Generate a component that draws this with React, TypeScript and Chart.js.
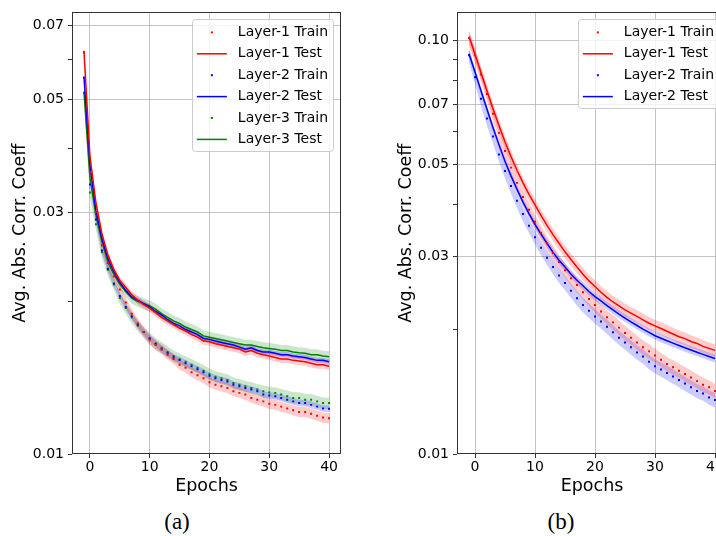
import React, { useEffect, useRef } from 'react';
import { Chart, registerables } from 'chart.js';

Chart.register(...registerables);

const FONT = '"DejaVu Sans", sans-serif';
const GRID = 'rgba(176,176,176,0.75)';
const SPINE = '#333333';

// ---------- data ----------
const EPOCHS = [-1, 0, 1, 2, 3, 4, 5, 6, 7, 8, 9, 10, 11, 12, 13, 14, 15, 16, 17, 18, 19, 20,
  21, 22, 23, 24, 25, 26, 27, 28, 29, 30, 31, 32, 33, 34, 35, 36, 37, 38, 39, 40];
const X_TICKS = [0, 10, 20, 30, 40];

// Panel (a)
const A_L1_TRAIN = [0.0620, 0.0360, 0.0300, 0.0258, 0.0238, 0.0224, 0.0211, 0.0199, 0.0189, 0.0181, 0.0174,
  0.0168, 0.0164, 0.0161, 0.0157, 0.0154, 0.0150, 0.0148, 0.0145, 0.0143, 0.0141, 0.01385,
  0.0137, 0.0136, 0.0135, 0.0133, 0.0132, 0.0131, 0.0129, 0.0128, 0.0127, 0.01256,
  0.0125, 0.0124, 0.0123, 0.0122, 0.0121, 0.0121, 0.0120, 0.0119, 0.0118, 0.01176];
const A_L1_TEST = [0.0624, 0.0387, 0.0313, 0.0272, 0.0247, 0.0231, 0.0220, 0.0213, 0.0206, 0.0201, 0.0197,
  0.0194, 0.0190, 0.0186, 0.0183, 0.0180, 0.0177, 0.0175, 0.0172, 0.0170, 0.0167, 0.01665,
  0.0165, 0.0164, 0.0163, 0.0162, 0.0161, 0.0159, 0.0160, 0.0158, 0.0157, 0.0156,
  0.0155, 0.0154, 0.0154, 0.0153, 0.01526, 0.0152, 0.0151, 0.0150, 0.0150, 0.0149];
const A_L2_TRAIN = [0.0552, 0.0340, 0.0290, 0.0252, 0.0232, 0.0217, 0.0205, 0.0195, 0.0187, 0.0180, 0.0174,
  0.0169, 0.0165, 0.0161, 0.0158, 0.0155, 0.01533, 0.0151, 0.0149, 0.0147, 0.0145, 0.01427,
  0.0141, 0.0140, 0.0139, 0.0137, 0.0136, 0.0135, 0.0134, 0.0133, 0.0131, 0.01304,
  0.0130, 0.0129, 0.0128, 0.0127, 0.0126, 0.0126, 0.0125, 0.0124, 0.0123, 0.01228];
const A_L2_TEST = [0.0555, 0.0372, 0.0302, 0.0266, 0.0243, 0.0229, 0.0218, 0.0210, 0.0204, 0.0201, 0.0198,
  0.0195, 0.0191, 0.0188, 0.0184, 0.0181, 0.0179, 0.0176, 0.0174, 0.0172, 0.0169, 0.01683,
  0.0167, 0.0166, 0.0165, 0.0164, 0.01625, 0.0161, 0.0162, 0.0160, 0.0159, 0.01589,
  0.0158, 0.0157, 0.0157, 0.0156, 0.01556, 0.0155, 0.0154, 0.0153, 0.0153, 0.0152];
const A_L3_TRAIN = [0.0515, 0.0328, 0.0284, 0.0250, 0.0231, 0.0216, 0.0203, 0.0194, 0.0186, 0.0179, 0.0174,
  0.0169, 0.0165, 0.0162, 0.0159, 0.0156, 0.01538, 0.0152, 0.0150, 0.0148, 0.0146, 0.01437,
  0.0142, 0.0141, 0.0140, 0.0138, 0.0137, 0.0136, 0.0135, 0.0134, 0.0133, 0.01323,
  0.0132, 0.0131, 0.0130, 0.0129, 0.0129, 0.0128, 0.0128, 0.0127, 0.0126, 0.0126];
const A_L3_TEST = [0.0519, 0.0351, 0.0296, 0.0262, 0.0239, 0.0226, 0.0216, 0.0209, 0.0203, 0.0200, 0.0198,
  0.0196, 0.0193, 0.0189, 0.0186, 0.0183, 0.0181, 0.0178, 0.0176, 0.0174, 0.0171, 0.0170,
  0.0169, 0.0168, 0.0167, 0.0166, 0.0165, 0.0164, 0.0164, 0.0163, 0.0162, 0.01615,
  0.0161, 0.0160, 0.0160, 0.0159, 0.01584, 0.0158, 0.0157, 0.0157, 0.0156, 0.01556];
// relative half-width of the shaded bands, in series order
const A_SPREAD = [0.023, 0.018, 0.015, 0.012, 0.026, 0.025];
const A_Y_TICKS = [0.01, 0.02, 0.03, 0.04, 0.05, 0.06, 0.07];
const A_Y_LABELED = [0.01, 0.03, 0.05, 0.07];

// Panel (b)
const B_L1_TRAIN = [0.101, 0.0920, 0.0826, 0.0741, 0.0664, 0.0597, 0.0540, 0.0492, 0.0452, 0.0418, 0.0389,
  0.0364, 0.0342, 0.0323, 0.0306, 0.0291, 0.0278, 0.0266, 0.0256, 0.0246, 0.0237, 0.0229,
  0.0221, 0.0214, 0.0208, 0.0202, 0.0196, 0.0191, 0.0186, 0.0181, 0.0177, 0.0173,
  0.0169, 0.0165, 0.0162, 0.0159, 0.0156, 0.0153, 0.0150, 0.0147, 0.0145, 0.0142];
const B_L1_TEST = [0.1020, 0.0924, 0.0834, 0.0754, 0.0683, 0.0622, 0.0568, 0.0523, 0.0485, 0.0452, 0.0424,
  0.0400, 0.0377, 0.0357, 0.0339, 0.0323, 0.0308, 0.0295, 0.0283, 0.0272, 0.0262, 0.0254,
  0.0246, 0.0239, 0.0233, 0.0228, 0.0223, 0.0219, 0.0215, 0.0211, 0.0207, 0.0204,
  0.0201, 0.0198, 0.0195, 0.0192, 0.0190, 0.0187, 0.0185, 0.0182, 0.0180, 0.0178];
const B_L2_TRAIN = [0.0920, 0.0814, 0.0722, 0.0647, 0.0585, 0.0529, 0.0483, 0.0444, 0.0409, 0.0380, 0.0356,
  0.0334, 0.0315, 0.0298, 0.0283, 0.0270, 0.0259, 0.0248, 0.0238, 0.0229, 0.0222, 0.0215,
  0.0209, 0.0203, 0.0197, 0.0191, 0.0186, 0.0181, 0.0176, 0.0172, 0.0167, 0.0163,
  0.0160, 0.0157, 0.0154, 0.0151, 0.0148, 0.0145, 0.0142, 0.0140, 0.0137, 0.0135];
const B_L2_TEST = [0.0927, 0.0838, 0.0755, 0.0681, 0.0615, 0.0559, 0.0510, 0.0470, 0.0436, 0.0406, 0.0381,
  0.0359, 0.0340, 0.0323, 0.0307, 0.0294, 0.0283, 0.0272, 0.0263, 0.0255, 0.0247, 0.0240,
  0.02343, 0.02284, 0.02229, 0.02178, 0.02131, 0.02086, 0.02044, 0.02004, 0.01967, 0.01931,
  0.01904, 0.01878, 0.01853, 0.01829, 0.01806, 0.01784, 0.01762, 0.01741, 0.01721, 0.01701];
const B_SPREAD = [0.04, 0.035, 0.04, 0.022];
const B_Y_TICKS = [0.01, 0.02, 0.03, 0.04, 0.05, 0.06, 0.07, 0.08, 0.09, 0.10];
const B_Y_LABELED = [0.01, 0.03, 0.05, 0.07, 0.10];

const LABELS_A = ['Layer-1 Train', 'Layer-1 Test', 'Layer-2 Train', 'Layer-2 Test', 'Layer-3 Train', 'Layer-3 Test'];
const LABELS_B = ['Layer-1 Train', 'Layer-1 Test', 'Layer-2 Train', 'Layer-2 Test'];

// ---------- styling ----------
const RED = '#ff0000';
const BLUE = '#0000ff';
const GREEN = '#008000';
const RED_F = 'rgba(255,0,0,0.2)';
const BLUE_F = 'rgba(0,0,255,0.2)';
const GREEN_F = 'rgba(0,128,0,0.2)';

type Series = { label: string; color: string; fillColor: string; kind: 'train' | 'test'; values: number[]; spread: number };
type Panel = { series: Series[]; yMin: number; yMax: number; yTicks: number[]; yLabeled: number[]; yWidth: number };

const PANEL_A: Panel = {
  series: [
    { label: LABELS_A[0], color: RED, fillColor: RED_F, kind: 'train', values: A_L1_TRAIN, spread: A_SPREAD[0] },
    { label: LABELS_A[1], color: RED, fillColor: RED_F, kind: 'test', values: A_L1_TEST, spread: A_SPREAD[1] },
    { label: LABELS_A[2], color: BLUE, fillColor: BLUE_F, kind: 'train', values: A_L2_TRAIN, spread: A_SPREAD[2] },
    { label: LABELS_A[3], color: BLUE, fillColor: BLUE_F, kind: 'test', values: A_L2_TEST, spread: A_SPREAD[3] },
    { label: LABELS_A[4], color: GREEN, fillColor: GREEN_F, kind: 'train', values: A_L3_TRAIN, spread: A_SPREAD[4] },
    { label: LABELS_A[5], color: GREEN, fillColor: GREEN_F, kind: 'test', values: A_L3_TEST, spread: A_SPREAD[5] },
  ],
  yMin: 0.01, yMax: 0.0743, yTicks: A_Y_TICKS, yLabeled: A_Y_LABELED, yWidth: 72,
};

const PANEL_B: Panel = {
  series: [
    { label: LABELS_B[0], color: RED, fillColor: RED_F, kind: 'train', values: B_L1_TRAIN, spread: B_SPREAD[0] },
    { label: LABELS_B[1], color: RED, fillColor: RED_F, kind: 'test', values: B_L1_TEST, spread: B_SPREAD[1] },
    { label: LABELS_B[2], color: BLUE, fillColor: BLUE_F, kind: 'train', values: B_L2_TRAIN, spread: B_SPREAD[2] },
    { label: LABELS_B[3], color: BLUE, fillColor: BLUE_F, kind: 'test', values: B_L2_TEST, spread: B_SPREAD[3] },
  ],
  yMin: 0.01, yMax: 0.1167, yTicks: B_Y_TICKS, yLabeled: B_Y_LABELED, yWidth: 71,
};

const pts = (arr: number[]) => arr.map((v, i) => ({ x: EPOCHS[i], y: v }));

function buildDatasets(p: Panel) {
  const ds: any[] = [];
  p.series.forEach((s) => {
    ds.push({ data: pts(s.values.map((v) => v * (1 + s.spread))), borderWidth: 0, pointRadius: 0, fill: '+1', backgroundColor: s.fillColor, order: 5 });
    ds.push({ data: pts(s.values.map((v) => v * (1 - s.spread))), borderWidth: 0, pointRadius: 0, fill: false, order: 5 });
  });
  p.series.forEach((s) => {
    if (s.kind === 'test') {
      ds.push({ data: pts(s.values), borderColor: s.color, borderWidth: 1.5, pointRadius: 0, fill: false, order: 0 });
    } else {
      ds.push({ data: pts(s.values), showLine: false, pointRadius: 1.4, pointStyle: 'rect', backgroundColor: s.color, borderWidth: 0, order: 0 });
    }
  });
  return ds;
}

function makeOverlay(p: Panel) {
  return {
    id: 'overlay',
    afterDatasetsDraw(chart: any) {
      const { ctx, chartArea } = chart;
      ctx.save();
      // frame (all four spines)
      ctx.strokeStyle = SPINE;
      ctx.lineWidth = 1;
      const l = Math.round(chartArea.left) + 0.5;
      const t = Math.round(chartArea.top) + 0.5;
      const r = Math.round(chartArea.right) - 0.5;
      const b = Math.round(chartArea.bottom) - 0.5;
      ctx.strokeRect(l, t, r - l, b - t);

      // legend
      ctx.font = '14px ' + FONT;
      const maxW = Math.max(...p.series.map((s) => ctx.measureText(s.label).width));
      const rowH = 21.4;
      const w = 5 + 30 + 11 + maxW + 5;
      const h = 13 + (p.series.length - 1) * rowH + 12;
      const x0 = chartArea.right - 8 - w;
      const y0 = chartArea.top + 7;
      ctx.beginPath();
      ctx.roundRect(Math.round(x0) + 0.5, Math.round(y0) + 0.5, Math.round(w), Math.round(h), 3);
      ctx.fillStyle = 'rgba(255,255,255,0.8)';
      ctx.fill();
      ctx.strokeStyle = '#cccccc';
      ctx.stroke();
      p.series.forEach((s, i) => {
        const cy = y0 + 13 + i * rowH;
        if (s.kind === 'test') {
          ctx.beginPath();
          ctx.moveTo(x0 + 5, cy);
          ctx.lineTo(x0 + 35, cy);
          ctx.strokeStyle = s.color;
          ctx.lineWidth = 1.5;
          ctx.stroke();
        } else {
          ctx.fillStyle = s.color;
          ctx.fillRect(x0 + 19, cy - 1, 2, 2);
        }
        ctx.fillStyle = '#000';
        ctx.textBaseline = 'middle';
        ctx.textAlign = 'left';
        ctx.fillText(s.label, x0 + 46, cy);
      });
      ctx.restore();
    },
  };
}

function makeChart(canvas: HTMLCanvasElement, p: Panel) {
  return new Chart(canvas, {
    type: 'line',
    data: { datasets: buildDatasets(p) },
    options: {
      responsive: false,
      maintainAspectRatio: false,
      animation: false,
      events: [],
      layout: { padding: { top: 8, right: 17, left: 0, bottom: 0 } },
      plugins: { legend: { display: false }, tooltip: { enabled: false } },
      scales: {
        x: {
          type: 'linear',
          min: -3,
          max: 42,
          afterBuildTicks: (s: any) => { s.ticks = X_TICKS.map((v) => ({ value: v })); },
          afterFit: (s: any) => { s.height = 46; },
          ticks: { autoSkip: false, maxRotation: 0, padding: 1, color: '#000', font: { family: FONT, size: 14 }, callback: (v: any) => String(v) },
          grid: { color: GRID, lineWidth: 1, tickColor: SPINE, tickLength: 4 },
          border: { display: false },
          title: { display: true, text: 'Epochs', color: '#000', font: { family: FONT, size: 17.5 }, padding: { top: 0, bottom: 3.5 } },
        },
        y: {
          type: 'logarithmic',
          min: p.yMin,
          max: p.yMax,
          afterBuildTicks: (s: any) => { s.ticks = p.yTicks.map((v) => ({ value: v })); },
          afterFit: (s: any) => { s.width = p.yWidth; },
          ticks: {
            autoSkip: false, padding: 4, color: '#000', font: { family: FONT, size: 14 },
            callback: (v: any) => (p.yLabeled.includes(v) ? Number(v).toFixed(2) : ''),
          },
          grid: {
            lineWidth: 1,
            tickLength: 4,
            tickColor: SPINE,
            color: (c: any) => (c.tick && p.yLabeled.includes(c.tick.value) && c.tick.value > p.yMin ? GRID : 'rgba(0,0,0,0)'),
          },
          border: { display: false },
          title: { display: true, text: 'Avg. Abs. Corr. Coeff', color: '#000', font: { family: FONT, size: 17.5 }, padding: { top: 10, bottom: 0 } },
        },
      },
    } as any,
    plugins: [makeOverlay(p)],
  });
}

export default function App() {
  const refA = useRef<HTMLCanvasElement | null>(null);
  const refB = useRef<HTMLCanvasElement | null>(null);

  useEffect(() => {
    const ca = makeChart(refA.current!, PANEL_A);
    const cb = makeChart(refB.current!, PANEL_B);
    return () => { ca.destroy(); cb.destroy(); };
  }, []);

  const caption: React.CSSProperties = {
    position: 'absolute', top: 508, width: 100, textAlign: 'center',
    font: '23px "Liberation Serif", "Times New Roman", serif', lineHeight: '28px', color: '#000',
  };

  return (
    <div style={{ position: 'fixed', left: 0, top: 0, width: 716, height: 536, overflow: 'hidden', background: '#fff' }}>
      <canvas ref={refA} width={358} height={500} style={{ position: 'absolute', left: 0, top: 0 }} />
      <canvas ref={refB} width={358} height={500} style={{ position: 'absolute', left: 386, top: 0 }} />
      <div style={{ ...caption, left: 127 }}>(a)</div>
      <div style={{ ...caption, left: 511 }}>(b)</div>
    </div>
  );
}
